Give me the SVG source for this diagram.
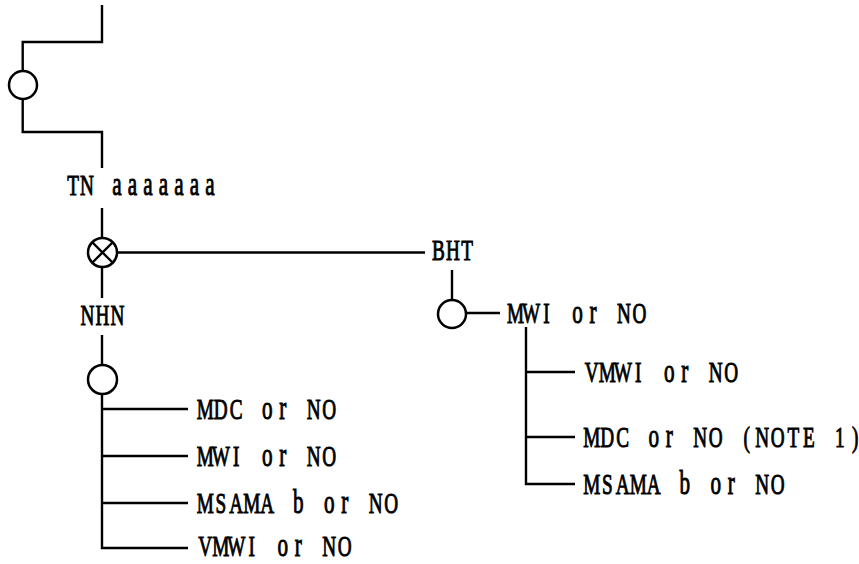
<svg xmlns="http://www.w3.org/2000/svg" width="859" height="564" viewBox="0 0 859 564">
<style>
.ln{stroke:#000;stroke-width:2.4;fill:none;stroke-linecap:butt}
.nd{stroke:#000;stroke-width:2.5;fill:#fff}
.t{font-family:"Liberation Serif","Times New Roman",serif;font-size:30px;fill:#000;stroke:#000;stroke-width:1;text-anchor:middle}
.lc{font-size:33px}
</style>
<rect width="859" height="564" fill="#fff"/>
<g id="connectors">
<polyline class="ln" points="102,5 102,42 22.7,42 22.7,71"/>
<polyline class="ln" points="22.7,99 22.7,132 102,132 102,168"/>
<line class="ln" x1="102" y1="208" x2="102" y2="238"/>
<line class="ln" x1="102" y1="267" x2="102" y2="298"/>
<line class="ln" x1="117" y1="252.5" x2="425" y2="252.5"/>
<line class="ln" x1="102" y1="335" x2="102" y2="365"/>
<polyline class="ln" points="102,394 102,548 188,548"/>
<line class="ln" x1="102" y1="409" x2="188" y2="409"/>
<line class="ln" x1="102" y1="456" x2="188" y2="456"/>
<line class="ln" x1="102" y1="503" x2="188" y2="503"/>
<line class="ln" x1="452" y1="270" x2="452" y2="300"/>
<line class="ln" x1="466" y1="313" x2="500" y2="313"/>
<polyline class="ln" points="526,327 526,484 575,484"/>
<line class="ln" x1="526" y1="372" x2="575" y2="372"/>
<line class="ln" x1="526" y1="437" x2="575" y2="437"/>
</g>
<g id="node-top-circle"><circle class="nd" cx="23" cy="85" r="14"/></g>
<g id="node-tn"><text class="t" transform="translate(67,195) scale(0.64,1)" x="9.4 31.3 51.6 78.1 102.3 126.6 150.8 175.0 199.2 223.4">TN <tspan class="lc">aaaaaaa</tspan></text></g>
<g id="node-cross">
<circle class="nd" cx="102.5" cy="252.5" r="14.5"/>
<line class="ln" x1="92.25" y1="242.25" x2="112.75" y2="262.75"/>
<line class="ln" x1="112.75" y1="242.25" x2="92.25" y2="262.75"/>
</g>
<g id="node-nhn"><text class="t" transform="translate(80,325) scale(0.64,1)" x="11.7 35.2 58.6">NHN</text></g>
<g id="node-nhn-circle"><circle class="nd" cx="102.5" cy="379.5" r="14.5"/></g>
<g id="node-l-mdc"><text class="t" transform="translate(197.5,419) scale(0.64,1)" x="12.1 36.3 60.5 84.8 109.0 133.2 157.4 181.7 205.9">MDC <tspan class="lc">or</tspan> NO</text></g>
<g id="node-l-mwi"><text class="t" transform="translate(197.5,466) scale(0.64,1)" x="12.1 36.3 60.5 84.8 109.0 133.2 157.4 181.7 205.9">MWI <tspan class="lc">or</tspan> NO</text></g>
<g id="node-l-msama"><text class="t" transform="translate(197.5,513) scale(0.64,1)" x="12.1 36.3 60.5 84.8 109.0 133.2 157.4 181.7 205.9 230.1 254.3 278.6 302.8">MSAMA <tspan class="lc">b</tspan> <tspan class="lc">or</tspan> NO</text></g>
<g id="node-l-vmwi"><text class="t" transform="translate(197.5,556) scale(0.64,1)" x="12.1 36.3 60.5 84.8 109.0 133.2 157.4 181.7 205.9 230.1">VMWI <tspan class="lc">or</tspan> NO</text></g>
<g id="node-bht"><text class="t" transform="translate(432,260) scale(0.64,1)" x="10.2 32.8 54.7">BHT</text></g>
<g id="node-bht-circle"><circle class="nd" cx="452" cy="314" r="14"/></g>
<g id="node-r-mwi"><text class="t" transform="translate(507.75,323) scale(0.64,1)" x="12.1 36.3 60.5 84.8 109.0 133.2 157.4 181.7 205.9">MWI <tspan class="lc">or</tspan> NO</text></g>
<g id="node-r-vmwi"><text class="t" transform="translate(584,382) scale(0.64,1)" x="12.1 36.3 60.5 84.8 109.0 133.2 157.4 181.7 205.9 230.1">VMWI <tspan class="lc">or</tspan> NO</text></g>
<g id="node-r-mdc"><text class="t" transform="translate(584,447) scale(0.64,1)" x="12.1 36.3 60.5 84.8 109.0 133.2 157.4 181.7 205.9 230.1 254.3 278.6 302.8 327.0 351.2 375.5 399.7 423.9">MDC <tspan class="lc">or</tspan> NO (NOTE 1)</text></g>
<g id="node-r-msama"><text class="t" transform="translate(584,494) scale(0.64,1)" x="12.1 36.3 60.5 84.8 109.0 133.2 157.4 181.7 205.9 230.1 254.3 278.6 302.8">MSAMA <tspan class="lc">b</tspan> <tspan class="lc">or</tspan> NO</text></g>
</svg>
